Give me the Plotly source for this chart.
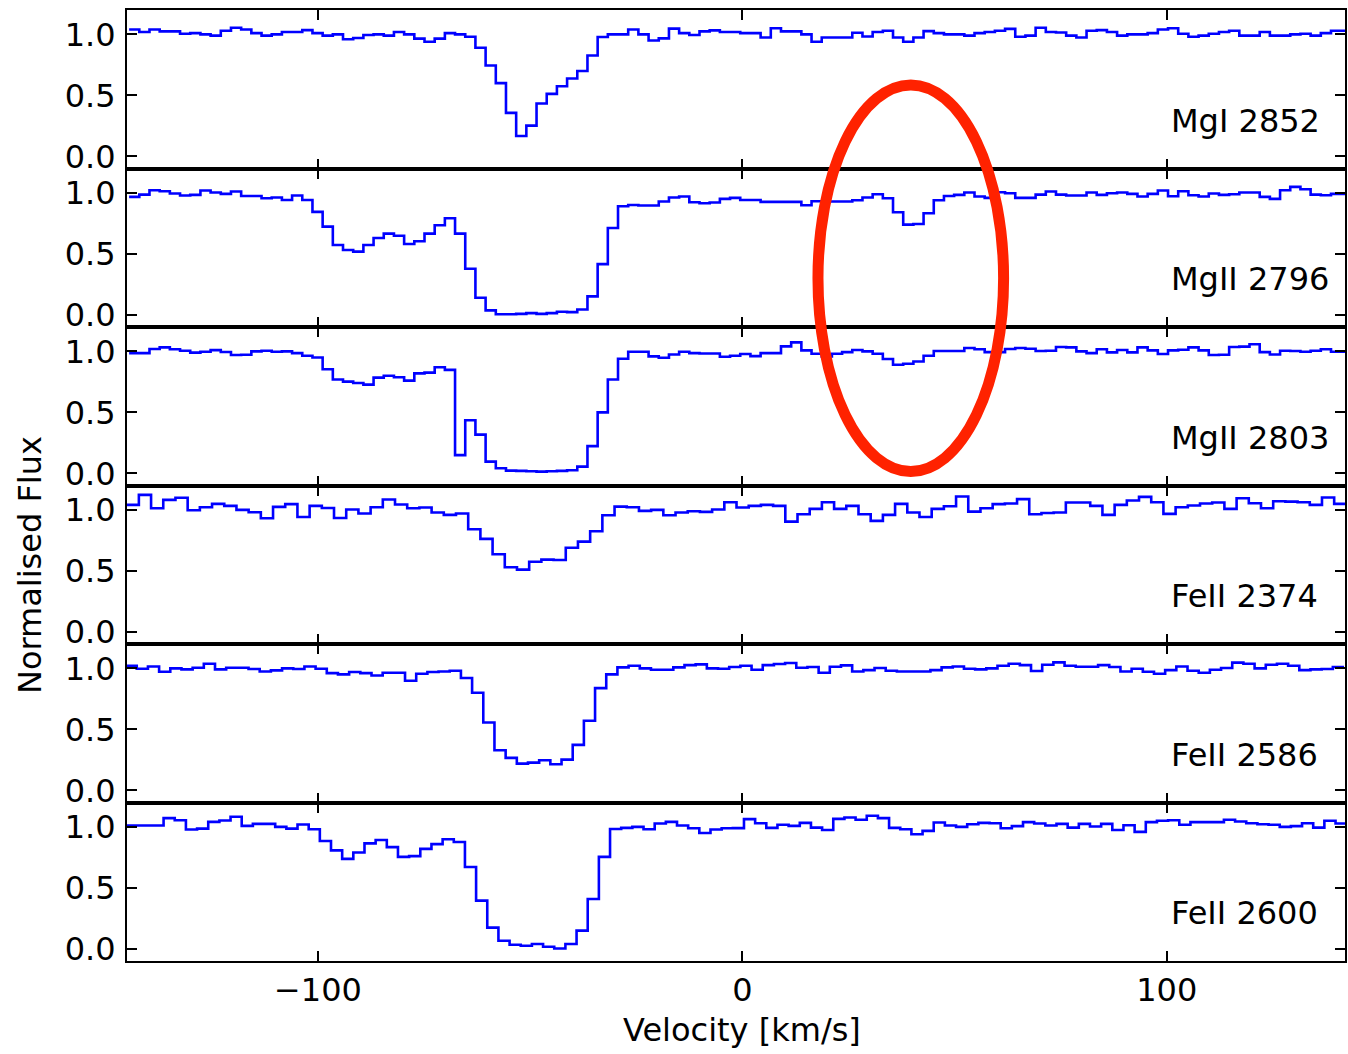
import plotly.graph_objects as go
from plotly.subplots import make_subplots

# ---------------- data ----------------
labels = ["MgI 2852", "MgII 2796", "MgII 2803", "FeII 2374", "FeII 2586", "FeII 2600"]

# velocity of first pixel centre and pixel width (km/s) for each transition
v_first = [-143.3, -143.3, -143.3, -143.64, -144.02, -145.585]
v_step = [2.4, 2.4, 2.4, 2.874, 2.634, 2.63]

flux_mgI_2852 = [
    1.04, 1.02, 1.04, 1.025, 1.025, 1.005, 1.01, 1.0, 0.99, 1.03,
    1.055, 1.04, 1.01, 0.99, 1.0, 1.02, 1.02, 1.035, 1.01, 0.99,
    1.0, 0.96, 0.97, 0.995, 1.0, 0.99, 1.02, 1.0, 0.965, 0.94,
    0.965, 1.01, 1.0, 0.98, 0.89, 0.745, 0.60, 0.356, 0.167, 0.252,
    0.433, 0.512, 0.575, 0.638, 0.70, 0.827, 0.978, 1.0, 1.0, 1.04,
    1.0, 0.95, 0.967, 1.047, 1.01, 0.995, 1.025, 1.033, 1.02,
    1.02, 1.01, 1.01, 0.975, 1.05, 1.025, 1.025, 1.0, 0.94, 0.975,
    0.975, 0.975, 1.014, 0.983, 1.02, 1.03, 0.975, 0.94, 0.975, 1.027,
    1.01, 1.0, 1.0, 0.99, 1.01, 1.02, 1.03, 1.045, 0.98, 0.99,
    1.055, 1.02, 1.015, 0.99, 0.975, 1.03, 1.035, 1.02, 0.99, 1.0,
    1.0, 1.01, 1.04, 1.05, 1.005, 0.98, 0.99, 1.005, 1.02, 1.03,
    0.99, 0.99, 1.02, 0.99, 0.99, 1.0, 1.005, 0.99, 1.01, 1.03,
    1.03,
]

flux_mgII_2796 = [
    0.967, 0.986, 1.022, 1.014, 0.995, 0.978, 0.984, 1.019, 1.003, 0.992,
    1.011, 0.975, 0.975, 0.956, 0.962, 0.942, 0.978, 0.942, 0.844, 0.723,
    0.573, 0.532, 0.518, 0.573, 0.630, 0.666, 0.649, 0.581, 0.603, 0.666,
    0.734, 0.792, 0.666, 0.378, 0.140, 0.036, 0.005, 0.005, 0.008, 0.014,
    0.008, 0.014, 0.025, 0.022, 0.044, 0.151, 0.416, 0.712, 0.890, 0.901,
    0.896, 0.896, 0.929, 0.962, 0.970, 0.923, 0.915, 0.921, 0.951,
    0.959, 0.942, 0.942, 0.926, 0.926, 0.926, 0.926, 0.899, 0.932, 0.929,
    0.929, 0.929, 0.94, 0.962, 0.989, 0.956, 0.841, 0.74, 0.745, 0.833,
    0.94, 0.975, 0.984, 1.003, 0.97, 0.959, 1.005, 0.997, 0.959, 0.959,
    0.986, 1.011, 0.986, 0.978, 0.978, 1.003, 0.984, 0.997, 1.003, 0.992,
    0.97, 0.992, 1.019, 0.973, 1.014, 0.981, 0.97, 0.995, 0.984, 0.989,
    1.003, 1.003, 0.967, 0.951, 1.022, 1.049, 1.03, 0.986, 0.981, 0.992,
    0.992,
]

flux_mgII_2803 = [
    0.986, 0.986, 1.02, 1.033, 1.017, 1.005, 0.99, 0.997, 1.01, 0.995,
    0.97, 0.972, 1.0, 1.005, 0.997, 1.0, 0.986, 0.964, 0.95, 0.854,
    0.77, 0.752, 0.741, 0.727, 0.785, 0.80, 0.788, 0.76, 0.82, 0.826,
    0.87, 0.848, 0.149, 0.435, 0.317, 0.096, 0.041, 0.022, 0.02, 0.017,
    0.014, 0.017, 0.02, 0.025, 0.055, 0.223, 0.50, 0.77, 0.94, 0.997,
    0.997, 0.959, 0.948, 0.975, 0.997, 0.986, 0.983, 0.983, 0.956,
    0.964, 0.978, 0.961, 0.986, 0.986, 1.041, 1.074, 1.008, 0.981, 0.959,
    0.981, 0.994, 1.011, 1.0, 0.981, 0.937, 0.89, 0.898, 0.917, 0.964,
    1.003, 1.003, 1.003, 1.028, 1.017, 0.994, 0.994, 1.019, 1.028, 1.022,
    1.003, 1.005, 1.036, 1.033, 1.0, 0.986, 1.017, 0.992, 1.011, 0.992,
    1.033, 1.008, 0.978, 1.008, 1.014, 1.033, 1.008, 0.97, 0.972, 1.036,
    1.039, 1.058, 0.994, 0.975, 1.005, 1.003, 0.997, 1.005, 1.017, 0.997,
    0.997,
]

flux_feII_2374 = [
    1.041, 1.123, 1.014, 1.082, 1.099, 0.997, 1.022, 1.049, 1.033, 1.0,
    0.981, 0.932, 1.025, 1.047, 0.942, 1.033, 1.016, 0.934, 1.003, 0.970,
    1.022, 1.085, 1.044, 1.014, 1.019, 0.978, 0.959, 0.970, 0.841, 0.762,
    0.636, 0.529, 0.510, 0.575, 0.592, 0.589, 0.690, 0.740, 0.825, 0.956,
    1.027, 1.022, 0.992, 1.0, 0.956, 0.978, 0.989, 0.984, 1.003, 1.063,
    1.019, 1.033, 1.041, 1.033, 0.904, 0.964, 1.008, 1.063, 1.008, 1.033,
    0.964, 0.910, 0.959, 1.049, 0.978, 0.942, 1.008, 1.030, 1.110, 0.986,
    1.014, 1.047, 1.052, 1.088, 0.964, 0.975, 0.978, 1.060, 1.060, 1.033,
    0.959, 1.041, 1.077, 1.107, 1.063, 0.967, 1.022, 1.036, 1.052, 1.060,
    1.008, 1.096, 1.055, 1.014, 1.071, 1.068, 1.063, 1.041, 1.101, 1.049,
]

flux_feII_2586 = [
    1.022, 0.997, 1.016, 0.973, 1.0, 0.992, 1.005, 1.038, 0.992, 1.005,
    1.005, 0.995, 0.975, 0.984, 1.0, 0.995, 1.016, 0.997, 0.961, 0.951,
    0.970, 0.961, 0.942, 0.964, 0.964, 0.899, 0.956, 0.970, 0.975, 0.981,
    0.921, 0.80, 0.556, 0.329, 0.266, 0.219, 0.227, 0.247, 0.214, 0.252,
    0.373, 0.570, 0.838, 0.951, 1.008, 1.022, 1.0, 0.989, 0.989, 1.008,
    1.027, 1.033, 1.0, 0.997, 1.011,
    1.022, 0.989, 1.027, 1.036, 1.044, 1.005, 1.011, 0.964, 1.014, 1.025,
    0.975, 0.986, 1.003, 0.981, 0.975, 0.975, 0.975, 0.986, 1.008, 1.016,
    0.997, 0.992, 1.0, 1.022, 1.038, 1.027, 0.978, 1.030, 1.049, 1.022,
    1.014, 1.014, 1.027, 1.011, 0.975, 0.997, 0.973, 0.956, 0.986, 1.016,
    0.981, 0.964, 0.989, 1.003, 1.047, 1.038, 1.0, 1.030, 1.038, 1.022,
    0.986, 0.992, 0.995, 1.011,
]

flux_feII_2600 = [
    1.011, 1.011, 1.011, 1.011, 1.072, 1.055, 0.978, 0.986, 1.041, 1.052,
    1.083, 1.008, 1.025, 1.025, 1.0, 0.986, 1.019, 0.981, 0.884, 0.807,
    0.738, 0.790, 0.865, 0.892, 0.834, 0.754, 0.760, 0.820, 0.859, 0.898,
    0.876, 0.671, 0.395, 0.174, 0.066, 0.033, 0.025, 0.039, 0.017, 0.003,
    0.039, 0.149, 0.409, 0.754, 0.983, 0.992, 1.0, 0.981, 1.028, 1.041,
    1.011, 0.989, 0.950, 0.978, 0.989, 0.99,
    1.064, 1.030, 0.992, 1.017, 1.008, 1.033, 0.994, 0.975, 1.066, 1.077,
    1.058, 1.091, 1.072, 0.992, 0.981, 0.939, 0.967, 1.036, 1.011, 1.0,
    1.022, 1.033, 1.030, 0.989, 1.006, 1.039, 1.028, 1.011, 1.025, 0.994,
    1.025, 1.003, 1.025, 0.975, 1.014, 0.959, 1.039, 1.050, 1.055, 1.017,
    1.039, 1.039, 1.039, 1.058, 1.044, 1.030, 1.022, 1.017, 1.0, 1.006,
    1.030, 0.994, 1.050, 1.028,
]

fluxes = [flux_mgI_2852, flux_mgII_2796, flux_mgII_2803,
          flux_feII_2374, flux_feII_2586, flux_feII_2600]

x_ticks = [-100, 0, 100]
x_ticktext = ["\u2212100", "0", "100"]
y_ticks = [0.0, 0.5, 1.0]
y_ticktext = ["0.0", "0.5", "1.0"]

# ---------------- figure ----------------
FONT = "DejaVu Sans"
n = len(labels)
fig = make_subplots(rows=n, cols=1, shared_xaxes=True, vertical_spacing=0)

for i in range(n):
    f = fluxes[i]
    edges = [v_first[i] - v_step[i] / 2 + v_step[i] * k for k in range(len(f) + 1)]
    fig.add_trace(
        go.Scatter(x=edges, y=list(f) + [f[-1]], mode="lines",
                   line=dict(color="#0000ff", width=2.6, shape="hv"),
                   showlegend=False, hoverinfo="skip"),
        row=i + 1, col=1)

axis_common = dict(showline=True, linewidth=2, linecolor="black", mirror="ticks",
                   ticks="inside", ticklen=10, tickwidth=1.5, tickcolor="black",
                   showgrid=False, zeroline=False,
                   tickfont=dict(family=FONT, size=32, color="black"))

for i in range(n):
    fig.update_xaxes(range=[-145, 142], tickvals=x_ticks, ticktext=x_ticktext,
                     showticklabels=(i == n - 1), ticklabelstandoff=0,
                     row=i + 1, col=1, **axis_common)
    fig.update_yaxes(range=[-0.1, 1.2], tickvals=y_ticks, ticktext=y_ticktext,
                     ticklabelstandoff=3, row=i + 1, col=1, **axis_common)
    suffix = "" if i == 0 else str(i + 1)
    fig.add_annotation(text=labels[i], xref="x" + suffix + " domain",
                       yref="y" + suffix + " domain", x=0.8556, y=0.30,
                       xanchor="left", yanchor="middle", showarrow=False,
                       font=dict(family=FONT, size=32, color="black"))

fig.add_annotation(text="Velocity [km/s]", xref="paper", yref="paper",
                   x=0.5053, y=-0.0726, xanchor="center", yanchor="middle",
                   showarrow=False, font=dict(family=FONT, size=32, color="black"))
fig.add_annotation(text="Normalised Flux", xref="paper", yref="paper",
                   x=-0.0796, y=0.4164, xanchor="center", yanchor="middle",
                   textangle=-90, showarrow=False,
                   font=dict(family=FONT, size=32, color="black"))

# red ellipse highlighting the weak component
fig.add_shape(type="circle", xref="paper", yref="paper",
              x0=0.5673, x1=0.7197, y0=0.5147, y1=0.9211,
              line=dict(color="#ff2200", width=11), fillcolor="rgba(0,0,0,0)")

fig.update_layout(width=1348, height=1054, plot_bgcolor="white", paper_bgcolor="white",
                  margin=dict(l=127, r=1, t=10, b=93), showlegend=False)

fig.write_html("out.html")
